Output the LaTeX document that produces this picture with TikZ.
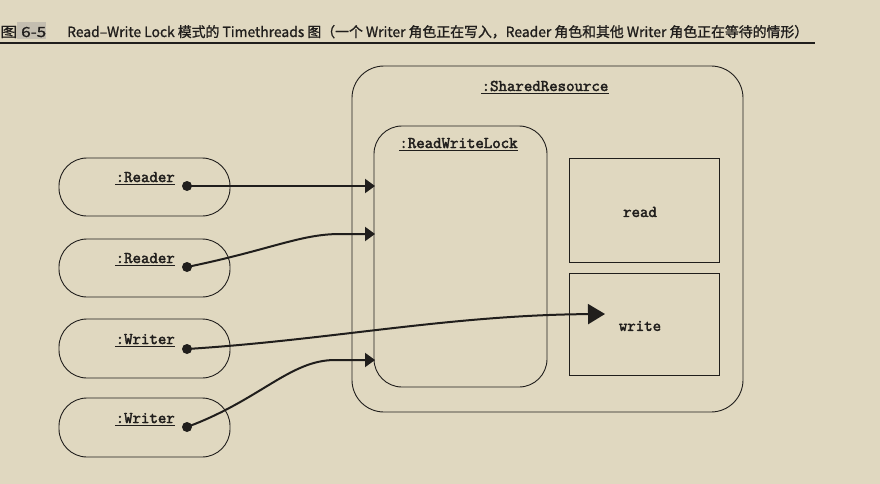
\documentclass[tikz,border=0pt]{standalone}
\usepackage{fontspec}
\newfontfamily\cjk{Noto Sans CJK SC}[FakeBold=1.2]
\newfontfamily\monob{Latin Modern Mono}[FakeBold=2.5]
\usetikzlibrary{arrows.meta}
\definecolor{bg}{RGB}{224,216,192}
\definecolor{ink}{RGB}{32,30,28}
\definecolor{tagbg}{RGB}{196,190,176}
\begin{document}
\begin{tikzpicture}[x=1pt,y=-1pt,
  frame/.style={draw=ink, line width=0.9pt, inner sep=0pt},
  lbl/.style={font=\monob\fontsize{16.4}{16}\selectfont, text=ink, inner sep=0pt},
  ulline/.style={draw=ink, line width=0.8pt},
  conn/.style={draw=ink, line width=2pt, -{Triangle[length=10pt,width=14pt]}},
  bigconn/.style={draw=ink, line width=2pt, -{Triangle[length=17pt,width=20pt]}},
  dotnode/.style={circle, fill=ink, inner sep=0pt, minimum size=10pt}]
\fill[bg] (0,0) rectangle (880,484);
\useasboundingbox (0,0) rectangle (880,484);
% title
\node[fill=tagbg, inner sep=0pt, minimum width=29pt, minimum height=17pt] (tag) at (31,31) {};
\node[font=\cjk\fontsize{14}{14}\selectfont, text=ink, inner sep=0pt, anchor=base west] (t1) at (0,37) {\resizebox{46pt}{\height}{图 6-5}};
\node[font=\cjk\fontsize{14}{14}\selectfont, text=ink, inner sep=0pt, anchor=base west] (t2) at (67,37)
  {\resizebox{741pt}{\height}{Read–Write Lock 模式的 Timethreads 图（一个 Writer 角色正在写入，Reader 角色和其他 Writer 角色正在等待的情形）}};
\coordinate (tl) at (0,43);
\coordinate (tr) at (815,43);
\draw[draw=ink, line width=1.3pt] (tl) -- (tr);
% containers
\node[frame, rounded corners=32pt, minimum width=391pt, minimum height=346pt] (sr) at (547.5,239) {};
\node[frame, rounded corners=28pt, minimum width=173pt, minimum height=261pt] (rwl) at (460.5,256.5) {};
\node[frame, minimum width=150pt, minimum height=104pt] (rd) at (644,210) {};
\node[frame, minimum width=150pt, minimum height=102pt] (wr) at (644,324) {};
\node[lbl, anchor=base] (srl) at (545,91) {:SharedResource};
\node[lbl, anchor=base] (rwll) at (458.5,148) {:ReadWriteLock};
\node[lbl] (rdl) at (640,212) {read};
\node[lbl] (wrl) at (640,326) {write};
\draw[ulline] ([yshift=-2.5pt]srl.south west) -- ([yshift=-2.5pt]srl.south east);
\draw[ulline] ([yshift=-2.5pt]rwll.south west) -- ([yshift=-2.5pt]rwll.south east);
% threads
\node[frame, rounded corners=28pt, minimum width=171pt, minimum height=58pt] (r1) at (144.5,187) {};
\node[frame, rounded corners=28pt, minimum width=171pt, minimum height=58pt] (r2) at (144.5,268) {};
\node[frame, rounded corners=28pt, minimum width=171pt, minimum height=59pt] (w1) at (144.5,348.5) {};
\node[frame, rounded corners=28pt, minimum width=171pt, minimum height=59pt] (w2) at (144.5,427.5) {};
\node[lbl, anchor=base east] (r1l) at (175,182) {:Reader};
\node[lbl, anchor=base east] (r2l) at (175,263) {:Reader};
\node[lbl, anchor=base east] (w1l) at (175,344) {:Writer};
\node[lbl, anchor=base east] (w2l) at (175,423) {:Writer};
\foreach \n in {r1l,r2l,w1l,w2l}
  \draw[ulline] ([yshift=-2.5pt]\n.south west) -- ([yshift=-2.5pt]\n.south east);
\node[dotnode] (r1d) at (187,186) {};
\node[dotnode] (r2d) at (187,267) {};
\node[dotnode] (w1d) at (187,349) {};
\node[dotnode] (w2d) at (187,427) {};
% arrow targets
\coordinate (a1) at (375,186);
\coordinate (a2) at (375,234);
\coordinate (a3) at (605,314);
\coordinate (a4) at (375,360);
\draw[conn] (r1d.center) -- (a1);
\draw[conn] (r2d.center) .. controls (270,250) and (300,234) .. (340,234) -- (a2);
\draw[bigconn] (w1d.center) .. controls (330,340) and (450,315) .. (a3);
\draw[conn] (w2d.center) .. controls (260,400) and (290,360) .. (335,360) -- (a4);
\end{tikzpicture}
\end{document}
